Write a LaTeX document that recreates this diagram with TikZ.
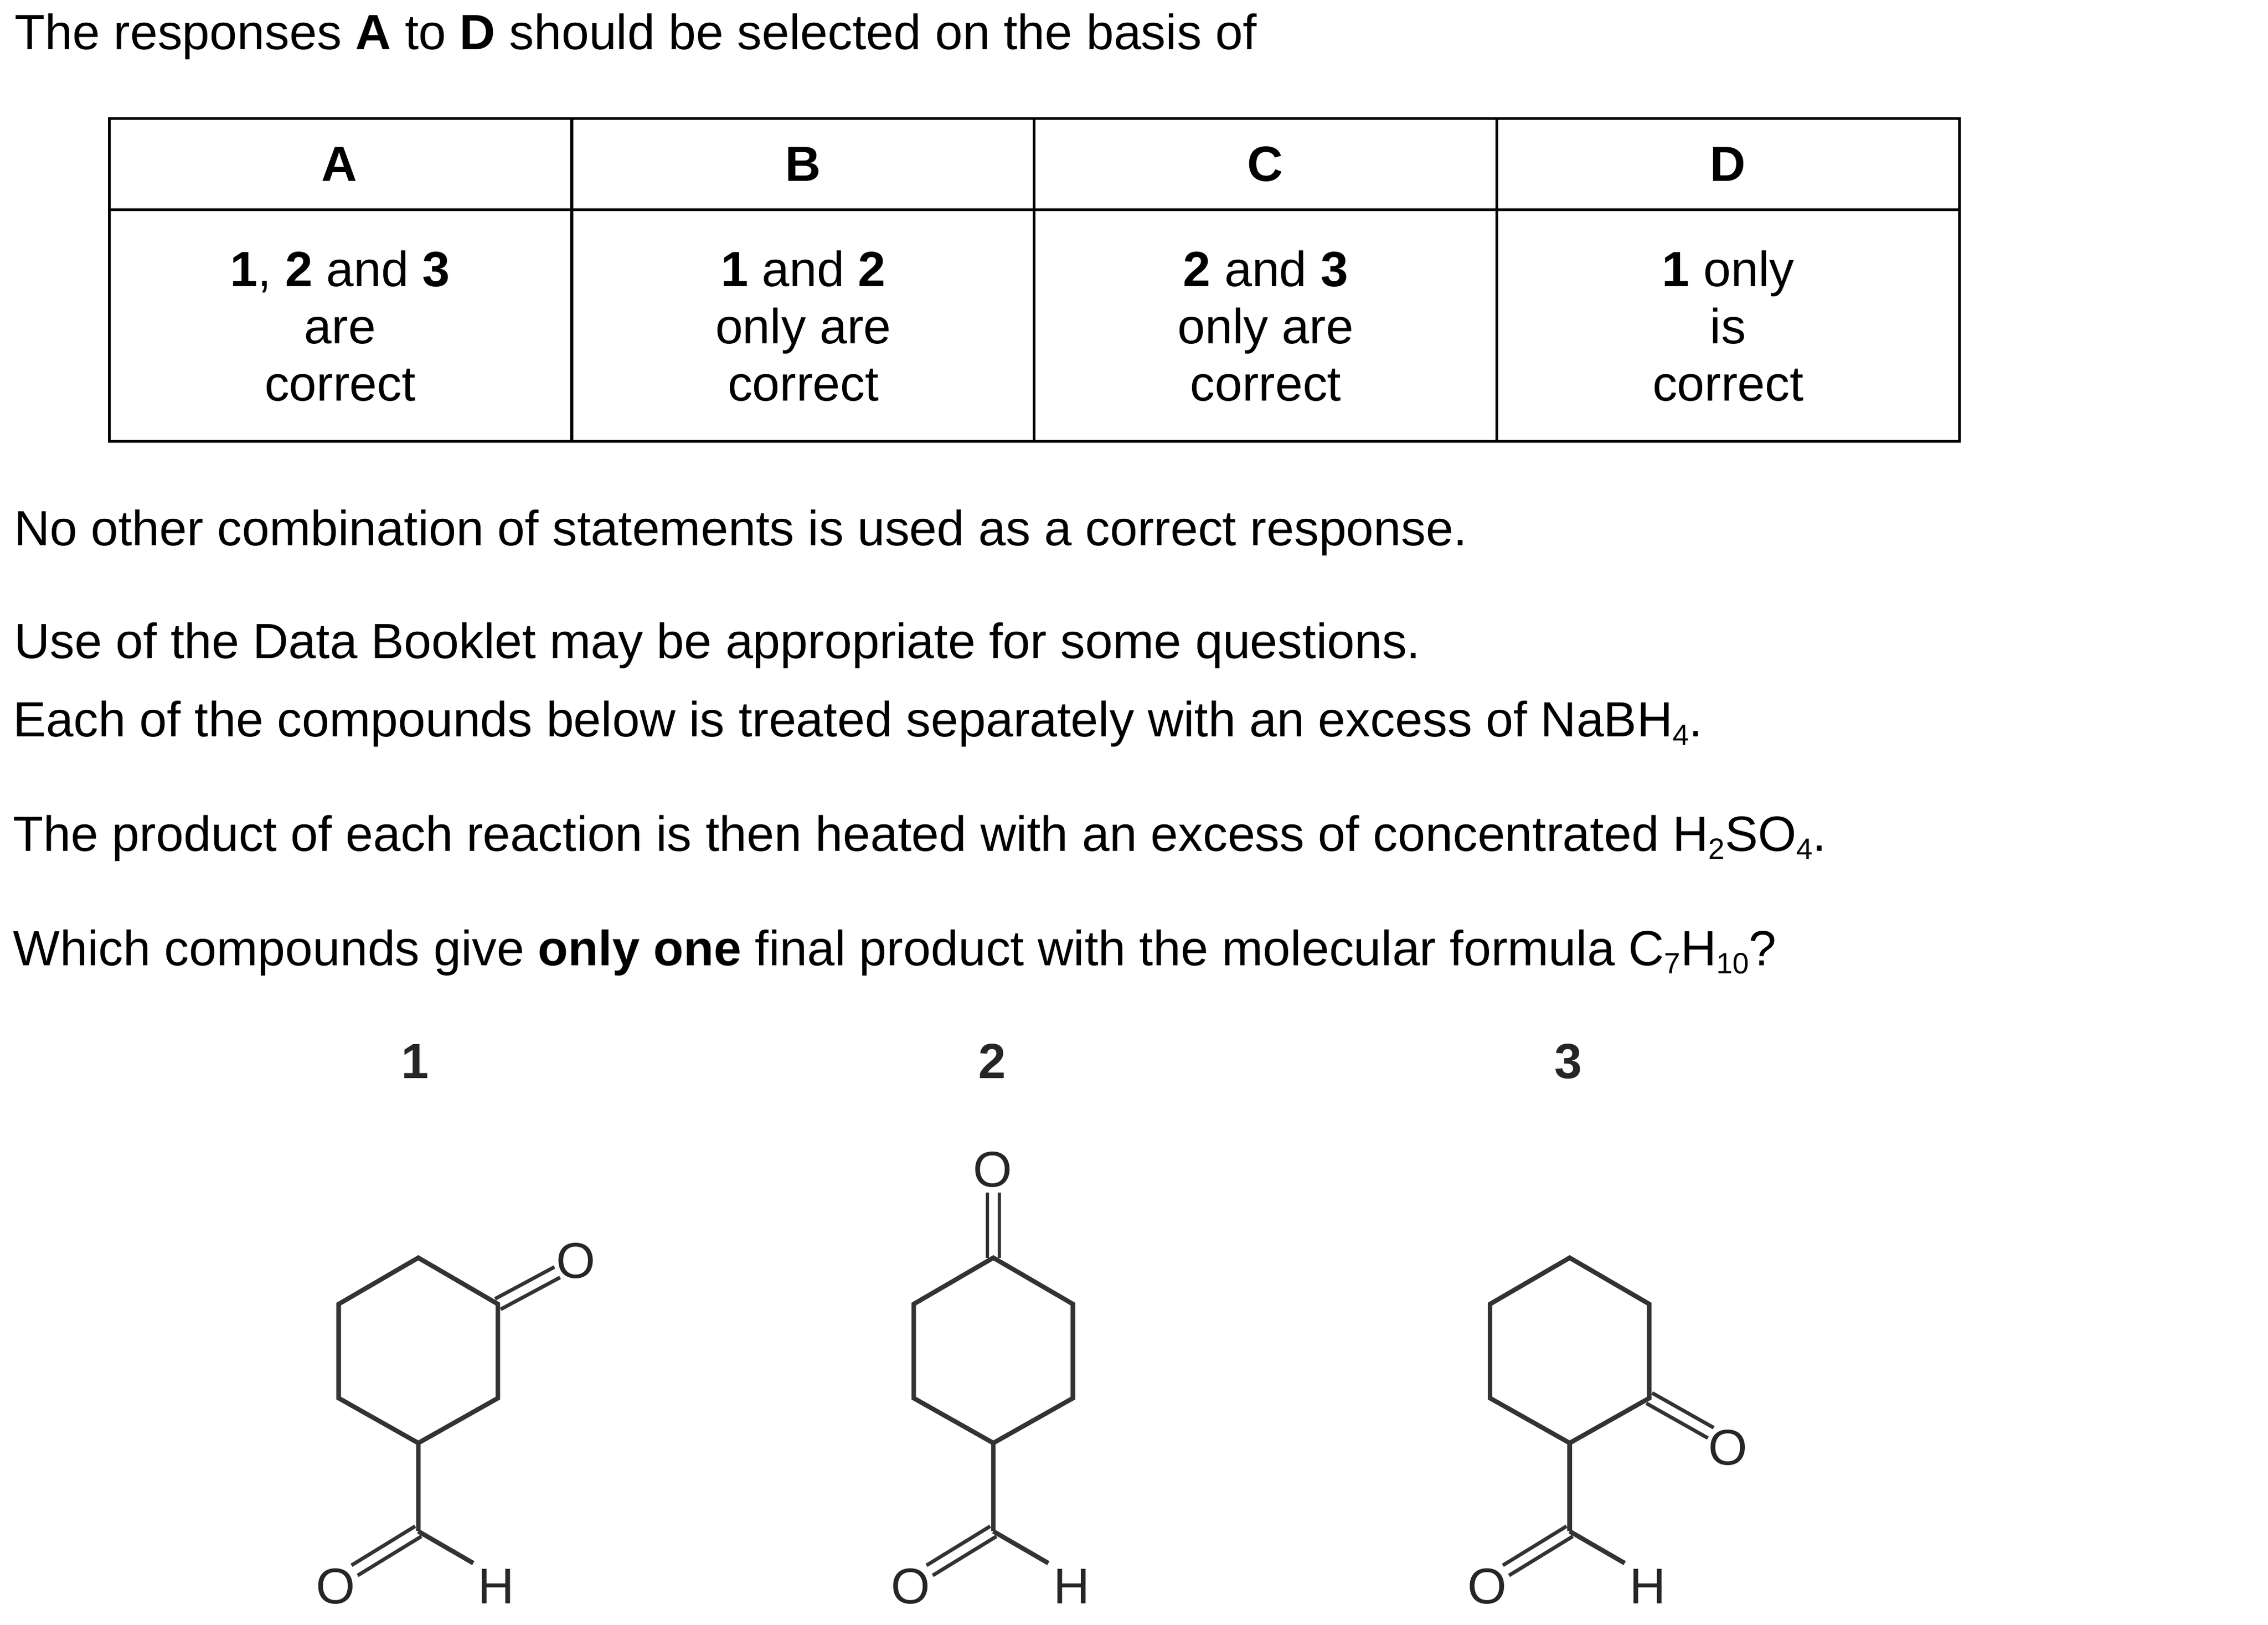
\documentclass[tikz,border=0pt]{standalone}
\usepackage{fontspec}
\setmainfont{Liberation Sans}
\usetikzlibrary{calc}
\tikzset{
    bodytext/.style={anchor=base west, inner sep=0pt, font=\fontsize{26.05}{30.3}\selectfont},
    celltext/.style={inner sep=0pt, align=center, font=\fontsize{26.05}{30.2}\selectfont},
    molnum/.style={inner sep=0pt, anchor=base, text=black!85, font=\fontsize{26.05}{30.3}\selectfont\bfseries},
    atom/.style={inner sep=0pt, text=black!85, font=\fontsize{26.5}{30}\selectfont},
    bond/.style={line width=2.4pt, black!80, line join=miter},
    tableline/.style={line width=1.5pt}
}
\newcommand{\dbond}[2]{
    \draw[bond, line width=1.9pt] ($(#1)!1.1mm!90:(#2)$) -- ($(#2)!1.1mm!-90:(#1)$);
    \draw[bond, line width=1.9pt] ($(#1)!1.1mm!-90:(#2)$) -- ($(#2)!1.1mm!90:(#1)$);
}
\newcommand{\chemsub}[1]{\raisebox{-0.17em}{\fontsize{15.5}{16}\selectfont #1}}
\begin{document}
\begin{tikzpicture}[x=0.02681cm, y=-0.02681cm]
    \useasboundingbox (0,0) rectangle (1567,1122.7);

    \node[bodytext] (intro) at (10,34) {The responses \textbf{A} to \textbf{D} should be selected on the basis of};

    % table
    \draw[tableline] (75.5,82) rectangle (1353.7,305);
    \draw[tableline] (75.5,145) -- (1353.7,145);
    \draw[tableline] (395,82) -- (395,305);
    \draw[tableline] (714.4,82) -- (714.4,305);
    \draw[tableline] (1034.2,82) -- (1034.2,305);

    \node[celltext] (headA) at (234.5,113.5) {\textbf{A}};
    \node[celltext] (headB) at (555,113.5) {\textbf{B}};
    \node[celltext] (headC) at (874,113.5) {\textbf{C}};
    \node[celltext] (headD) at (1194,113.5) {\textbf{D}};
    \node[celltext] (cellA) at (235,225.3) {\textbf{1}, \textbf{2} and \textbf{3}\\are\\correct};
    \node[celltext] (cellB) at (555,225.3) {\textbf{1} and \textbf{2}\\only are\\correct};
    \node[celltext] (cellC) at (874.5,225.3) {\textbf{2} and \textbf{3}\\only are\\correct};
    \node[celltext] (cellD) at (1194,225.3) {\textbf{1} only\\is\\correct};

    \node[bodytext] (other) at (9.5,377) {No other combination of statements is used as a correct response.};
    \node[bodytext] (data) at (9.5,455) {Use of the Data Booklet may be appropriate for some questions.};
    \node[bodytext] (each) at (9,509) {Each of the compounds below is treated separately with an excess of NaBH\chemsub{4}.};
    \node[bodytext] (product) at (9,588) {The product of each reaction is then heated with an excess of concentrated H\chemsub{2}SO\chemsub{4}.};
    \node[bodytext] (which) at (9,667) {Which compounds give \textbf{only one} final product with the molecular formula C\chemsub{7}H\chemsub{10}?};

    \node[molnum] (numA) at (287,745) {1};
    \node[molnum] (numB) at (685.5,745) {2};
    \node[molnum] (numC) at (1083.5,745) {3};

    % the three rings and their CHO groups
    \foreach \m/\cx in {a/289, b/686.3, c/1084.5} {
        \coordinate (\m1) at (\cx,869);
        \coordinate (\m2) at (\cx+55,901);
        \coordinate (\m3) at (\cx+55,966);
        \coordinate (\m4) at (\cx,997);
        \coordinate (\m5) at (\cx-55,966);
        \coordinate (\m6) at (\cx-55,901);
        \coordinate (\m7) at (\cx,1058);
        \coordinate (\m8) at (\cx+38,1080);
        \coordinate (\m9) at (\cx-44,1085);
        \node[atom] (\m O) at (\cx-57,1096) {O};
        \node[atom] (\m H) at (\cx+54,1096) {H};
        \draw[bond] (\m1) -- (\m2) -- (\m3) -- (\m4) -- (\m5) -- (\m6) -- cycle;
        \draw[bond] (\m4) -- (\m7);
        \draw[bond] (\m7) -- (\m8);
        \dbond{\m7}{\m9}
    }

    \node[atom] (oa) at (398,871) {O};
    \coordinate (ea) at (385,879);
    \dbond{a2}{ea}
    \node[atom] (ob) at (686,808) {O};
    \coordinate (eb) at (686.3,824);
    \dbond{b1}{eb}
    \node[atom] (oc) at (1194,1000) {O};
    \coordinate (ec) at (1182,990);
    \dbond{c3}{ec}
\end{tikzpicture}
\end{document}
